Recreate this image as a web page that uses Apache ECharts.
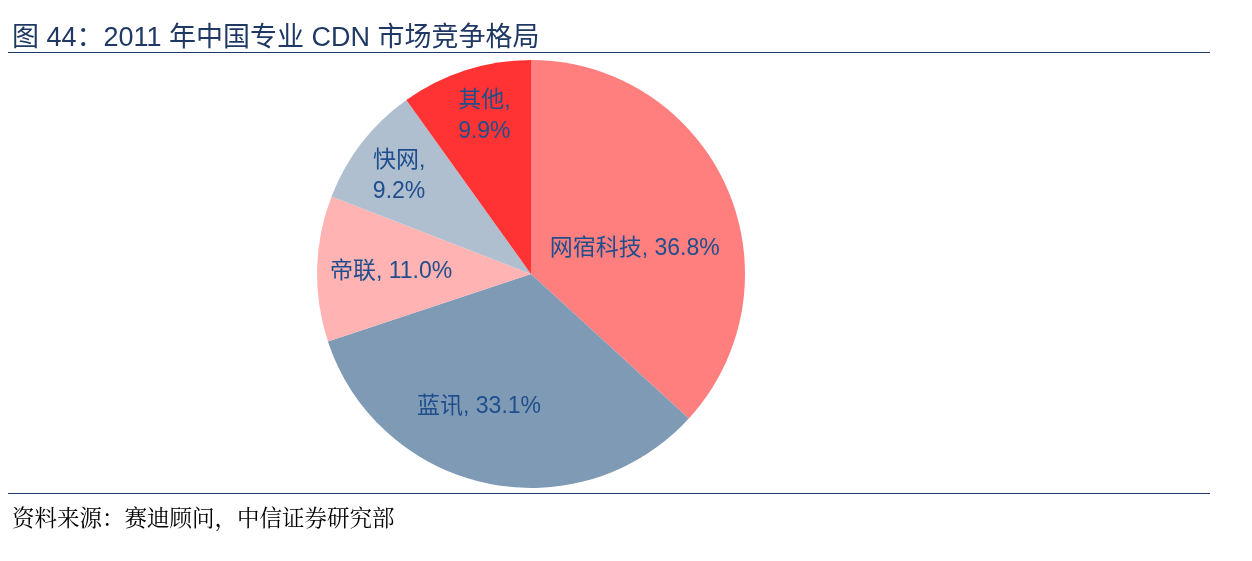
<!DOCTYPE html>
<html><head><meta charset="utf-8">
<script src="https://cdn.jsdelivr.net/npm/echarts@6/dist/echarts.min.js"></script>
<style>body{margin:0;background:#fff;font-family:"Noto Sans CJK SC",sans-serif}
#t{position:absolute;left:12px;top:15px;font-size:27px;color:#1f3864;font-family:"Liberation Sans","Noto Sans CJK SC",sans-serif}
#l1{position:absolute;left:8px;right:42px;top:52px;border-top:1px solid #1f3864}
#l2{position:absolute;left:8px;right:42px;top:493px;border-top:1px solid #1f3864}
#s{position:absolute;left:12px;top:500px;font-size:22.5px;color:#000;font-family:"Noto Serif CJK SC","Noto Sans CJK SC",serif}
#c{position:absolute;left:0;top:0;width:1252px;height:561px}</style></head>
<body><div id="c"></div><div id="t">图 44：2011 年中国专业 CDN 市场竞争格局</div><div id="l1"></div><div id="l2"></div>
<div id="s">资料来源：赛迪顾问，中信证券研究部</div>
<script>
const categories=['网宿科技','蓝讯','帝联','快网','其他'];
const values=[36.8,33.1,11.0,9.2,9.9];
const colors=['#FF7F7F','#7F9AB5','#FFB3B3','#B0BFD0','#FF3333'];
const breakLine=[false,false,false,true,true];
const offsets=[[3,19],[-29,25],[-30,0],[-45,-30],[-13,-53]];
const ch=echarts.init(document.getElementById('c'));
ch.setOption({animation:false,series:[{type:'pie',center:[531,274],radius:[0,214],startAngle:90,clockwise:true,
data:categories.map((n,i)=>({name:n,value:values[i],itemStyle:{color:colors[i]},
label:{offset:offsets[i],formatter:n+','+(breakLine[i]?'\n':' ')+values[i].toFixed(1)+'%'}})),
label:{position:'inside',color:'#1F4E8C',fontSize:23,lineHeight:31,align:'left',fontFamily:'Liberation Sans, Noto Sans CJK SC'},
labelLine:{show:false},itemStyle:{borderWidth:0}}]});
</script></body></html>
